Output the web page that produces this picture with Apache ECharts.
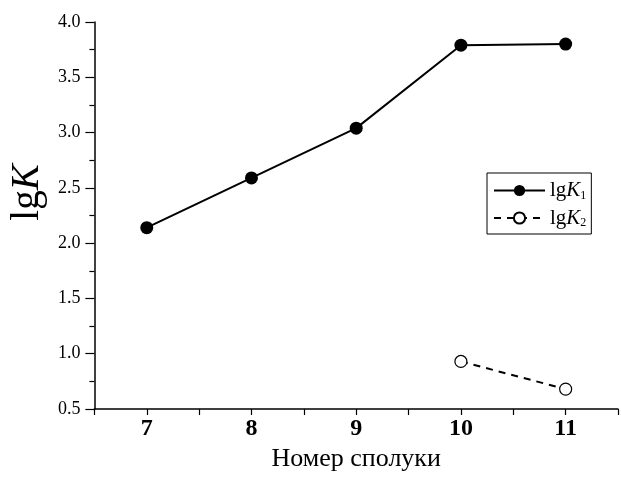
<!DOCTYPE html>
<html>
<head>
<meta charset="utf-8">
<script src="https://cdn.jsdelivr.net/npm/echarts@6/dist/echarts.min.js"></script>
<style>
html,body{margin:0;padding:0;background:#fff;}
#chart{width:621px;height:477px;}
</style>
</head>
<body>
<div id="chart"></div>
<script>
var compounds = [7, 8, 9, 10, 11];
var lgK1 = [2.14, 2.59, 3.04, 3.79, 3.80];
var compoundsK2 = [10, 11];
var lgK2 = [0.93, 0.68];
var seriesNames = ['lgK1', 'lgK2'];
var xTitle = 'Номер сполуки';

var serif = '"Liberation Serif", "DejaVu Serif", serif';
function pairs(xs, ys) { return xs.map(function (x, i) { return [x, ys[i]]; }); }

var chart = echarts.init(document.getElementById('chart'), null, {renderer: 'canvas'});
chart.setOption({
  animation: false,
  backgroundColor: '#fff',
  grid: {left: 88, right: 0, top: 22, bottom: 62, containLabel: false},
  xAxis: {
    type: 'value', min: 6.5, max: 11.5, interval: 0.5,
    name: xTitle, nameLocation: 'middle', nameGap: 37,
    nameTextStyle: {fontFamily: serif, fontSize: 26, color: '#000'},
    axisLine: {show: true, onZero: false, lineStyle: {color: '#000', width: 1.5}},
    axisTick: {show: true, length: 6, lineStyle: {color: '#000', width: 1.2}},
    axisLabel: {
      margin: 8, fontFamily: serif, fontSize: 24, fontWeight: 'bold', color: '#000',
      formatter: function (v) { return Math.abs(v - Math.round(v)) < 1e-6 ? String(Math.round(v)) : ''; }
    },
    splitLine: {show: false}
  },
  yAxis: {
    type: 'value', min: 0.5, max: 4.0, interval: 0.5,
    name: '{a|lg}{b|K}', nameLocation: 'middle', nameGap: 44, nameRotate: 90,
    nameTextStyle: {
      padding: [0, 0, 0, 46],
      rich: {
        a: {fontFamily: serif, fontSize: 39, color: '#000'},
        b: {fontFamily: serif, fontSize: 39, fontStyle: 'italic', color: '#000'}
      }
    },
    axisLine: {show: true, onZero: false, lineStyle: {color: '#000', width: 1.5}},
    axisTick: {show: true, length: 9, lineStyle: {color: '#000', width: 1.2}},
    minorTick: {show: true, splitNumber: 2, length: 5, lineStyle: {color: '#000', width: 1.2}},
    axisLabel: {
      margin: 14, fontFamily: serif, fontSize: 18, color: '#000',
      formatter: function (v) { return v.toFixed(1); }
    },
    splitLine: {show: false}
  },
  legend: {
    orient: 'vertical', left: 487, top: 173,
    padding: [7, 5, 5, 6], itemGap: 6,
    itemWidth: 51, itemHeight: 14,
    borderColor: '#000', borderWidth: 1, backgroundColor: '#fff',
    data: seriesNames,
    formatter: function (name) { return '{a|lg}{b|K}{s|' + name.slice(3) + '}'; },
    textStyle: {
      rich: {
        a: {fontFamily: serif, fontSize: 21, color: '#000', lineHeight: 22},
        b: {fontFamily: serif, fontSize: 21, fontStyle: 'italic', color: '#000', lineHeight: 22},
        s: {fontFamily: serif, fontSize: 12, color: '#000', lineHeight: 22, verticalAlign: 'bottom', padding: [8, 0, 0, 0]}
      }
    }
  },
  series: [
    {
      name: seriesNames[0], type: 'line', data: pairs(compounds, lgK1),
      symbol: 'circle', symbolSize: 13,
      lineStyle: {color: '#000', width: 2},
      itemStyle: {color: '#000', borderColor: '#000', borderWidth: 0}
    },
    {
      name: seriesNames[1], type: 'line', data: pairs(compoundsK2, lgK2),
      symbol: 'circle', symbolSize: 12,
      lineStyle: {color: '#000', width: 2, type: [7, 6]},
      itemStyle: {color: '#fff', borderColor: '#000', borderWidth: 1.2}
    }
  ]
});
</script>
</body>
</html>
